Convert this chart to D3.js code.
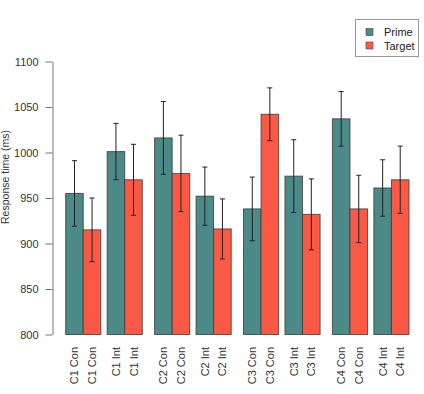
<!DOCTYPE html>
<html>
<head>
<meta charset="utf-8">
<script src="https://cdn.jsdelivr.net/npm/d3@7"></script>
<style>
  body { margin: 0; background: #fff; }
  svg { font-family: "Liberation Sans", Arial, sans-serif; }
</style>
</head>
<body>
<div id="vis"></div>
<script>
// datos
const categories = ["C1 Con", "C1 Int", "C2 Con", "C2 Int", "C3 Con", "C3 Int", "C4 Con", "C4 Int"];
const series = ["Prime", "Target"];
const prime = [955, 1001, 1016, 952, 938, 974, 1037, 961];
const target = [915, 970, 977, 916, 1042, 932, 938, 970];
const primeErr = [36, 31, 40, 32, 35, 40, 30, 31];
const targetErr = [35, 39, 42, 33, 29, 39, 37, 37];
const yTicks = [800, 850, 900, 950, 1000, 1050, 1100];

const width = 424, height = 394;
const colors = { Prime: "#4b8a87", Target: "#fa5a45" };

const svg = d3.select("#vis").append("svg")
  .attr("width", width)
  .attr("height", height);

// posiciones en "unidades de barra": pares juntos, hueco chico dentro de cada C, grande entre C
const smallGap = 0.36, bigGap = 0.7;
const starts = [];
let u = 0;
categories.forEach((c, i) => {
  starts.push(u);
  u += 2;
  if (i < categories.length - 1) u += (i % 2 === 0) ? smallGap : bigGap;
});

const x = d3.scaleLinear().domain([0, u]).range([65.7, 409]);
const y = d3.scaleLinear().domain([800, 1100]).range([334.5, 61.5]);

// datos planos para las barras
const bars = [];
categories.forEach((c, i) => {
  bars.push({ cat: c, s: "Prime", v: prime[i], e: primeErr[i], u0: starts[i] });
  bars.push({ cat: c, s: "Target", v: target[i], e: targetErr[i], u0: starts[i] + 1 });
});

svg.selectAll("rect.bar")
  .data(bars)
  .enter()
  .append("rect")
  .attr("class", "bar")
  .attr("x", d => x(d.u0))
  .attr("y", d => y(d.v))
  .attr("width", d => x(d.u0 + 1) - x(d.u0))
  .attr("height", d => y(800) - y(d.v))
  .attr("fill", d => colors[d.s])
  .attr("stroke", "#3a3a3a")
  .attr("stroke-opacity", 0.8)
  .attr("stroke-width", 1);

// barras de error
const eb = svg.selectAll("g.err")
  .data(bars)
  .enter()
  .append("g")
  .attr("class", "err")
  .attr("stroke", "#222")
  .attr("stroke-width", 1);

eb.append("line")
  .attr("x1", d => x(d.u0 + 0.5))
  .attr("x2", d => x(d.u0 + 0.5))
  .attr("y1", d => y(d.v + d.e))
  .attr("y2", d => y(d.v - d.e));
eb.append("line")
  .attr("x1", d => x(d.u0 + 0.5) - 2.5)
  .attr("x2", d => x(d.u0 + 0.5) + 2.5)
  .attr("y1", d => y(d.v + d.e))
  .attr("y2", d => y(d.v + d.e));
eb.append("line")
  .attr("x1", d => x(d.u0 + 0.5) - 2.5)
  .attr("x2", d => x(d.u0 + 0.5) + 2.5)
  .attr("y1", d => y(d.v - d.e))
  .attr("y2", d => y(d.v - d.e));

// eje y
const yAxis = svg.append("g")
  .attr("transform", "translate(52.5,0)")
  .call(d3.axisLeft(y).tickValues(yTicks).tickFormat(d3.format("d")).tickSize(7).tickSizeOuter(0).tickPadding(7));
yAxis.selectAll("path, line").attr("stroke", "#777");
yAxis.selectAll("text").attr("font-size", 11).attr("fill", "#333").attr("font-family", "Liberation Sans, Arial, sans-serif");

svg.append("text")
  .attr("transform", "translate(9,177) rotate(-90)")
  .attr("text-anchor", "middle")
  .attr("font-size", 10.5)
  .attr("fill", "#333")
  .text("Response time (ms)");

// etiquetas x (rotadas)
svg.selectAll("text.xlab")
  .data(bars)
  .enter()
  .append("text")
  .attr("class", "xlab")
  .attr("transform", d => `translate(${x(d.u0 + 0.5) + 4},347) rotate(-90)`)
  .attr("text-anchor", "end")
  .attr("font-size", 11)
  .attr("fill", "#333")
  .text(d => d.cat);

// leyenda
const leg = svg.append("g");
leg.append("rect")
  .attr("x", 355.5).attr("y", 19.5)
  .attr("width", 63).attr("height", 37)
  .attr("fill", "#fff").attr("stroke", "#999");
series.forEach((s, i) => {
  leg.append("rect")
    .attr("x", 366).attr("y", 28.5 + i * 13.5)
    .attr("width", 7).attr("height", 7)
    .attr("fill", colors[s]).attr("stroke", "#444").attr("stroke-width", 0.6);
  leg.append("text")
    .attr("x", 384).attr("y", 36 + i * 13.5)
    .attr("font-size", 11)
    .attr("fill", "#222")
    .text(s);
});
</script>
</body>
</html>
